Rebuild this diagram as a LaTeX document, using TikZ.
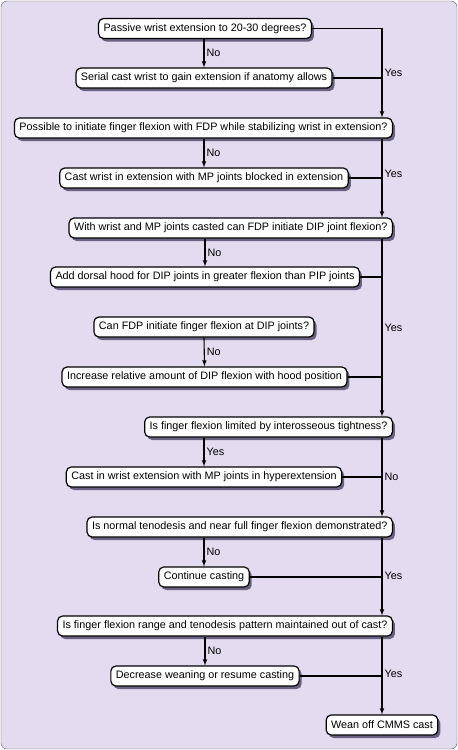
\documentclass[tikz,border=0pt]{standalone}
\usepackage{fontspec}
\setmainfont{Liberation Sans}
\usetikzlibrary{shadows}

\definecolor{lavender}{RGB}{227,220,240}
\definecolor{shadowgray}{RGB}{105,98,128}

\tikzset{
  flowbox/.style={draw, line width=1.2pt, fill=white, rounded corners=5pt,
    inner xsep=5pt, inner ysep=0pt, minimum height=20pt,
    font=\fontsize{10.8}{12}\selectfont,
    general shadow={fill=shadowgray, shadow xshift=2.5pt, shadow yshift=-3pt}},
  flowline/.style={line width=1.1pt},
  lbl/.style={font=\fontsize{10.8}{12}\selectfont, inner sep=2pt}
}

\begin{document}
\begin{tikzpicture}[>=latex, x=1pt, y=-1pt]

                % Background
                \draw [gray!70!black, fill=lavender, rounded corners=6pt] (1,1) rectangle (457,749);
                \useasboundingbox (0,0) rectangle (458,750);

                % Right hand line
                \coordinate (rx) at (382,0);

                % Boxes
                \node [flowbox] (q1) at (205,28.5) {Passive wrist extension to 20-30 degrees?};
                \node [flowbox] (a2) at (204,78) {Serial cast wrist to gain extension if anatomy allows};
                \node [flowbox, anchor=east] (q3) at (393,128) {Possible to initiate finger flexion with FDP while stabilizing wrist in extension?};
                \node [flowbox] (a4) at (204,178) {Cast wrist in extension with MP joints blocked in extension};
                \node [flowbox, anchor=east] (q5) at (393,228) {With wrist and MP joints casted can FDP initiate DIP joint flexion?};
                \node [flowbox] (a6) at (205,277) {Add dorsal hood for DIP joints in greater flexion than PIP joints};
                \node [flowbox] (q7) at (204,327) {Can FDP initiate finger flexion at DIP joints?};
                \node [flowbox] (a8) at (204.5,377) {Increase relative amount of DIP flexion with hood position};
                \node [flowbox, anchor=east] (q9) at (393,427) {Is finger flexion limited by interosseous tightness?};
                \node [flowbox] (a10) at (204,477) {Cast in wrist extension with MP joints in hyperextension};
                \node [flowbox, anchor=east] (q11) at (393,527) {Is normal tenodesis and near full finger flexion demonstrated?};
                \node [flowbox] (a12) at (204,577) {Continue casting};
                \node [flowbox, anchor=east] (q13) at (393,626) {Is finger flexion range and tenodesis pattern maintained out of cast?};
                \node [flowbox] (a14) at (205,676) {Decrease weaning or resume casting};
                \node [flowbox] (w15) at (382,725) {Wean off CMMS cast};

                % Left arrows
                \draw [flowline,->] (q1.south -| a2) -- (a2.north) node[lbl, midway, right] {No};
                \draw [flowline,->] (q3.south -| a4) -- (a4.north) node[lbl, midway, right] {No};
                \draw [flowline,->] (q5.south -| a6) -- (a6.north) node[lbl, midway, right] {No};
                \draw [flowline,->] (q7.south) -- (a8.north) node[lbl, midway, right] {No};
                \draw [flowline,->] (q9.south -| a10) -- (a10.north) node[lbl, midway, right] {Yes};
                \draw [flowline,->] (q11.south -| a12) -- (a12.north) node[lbl, midway, right] {No};
                \draw [flowline,->] (q13.south -| a14) -- (a14.north) node[lbl, midway, right] {No};

                % Right arrows
                \draw [flowline,->] (q1.east) -| (q3.north -| rx);
                \draw [flowline,->] (q3.south -| rx) -- (q5.north -| rx);
                \draw [flowline,->] (q5.south -| rx) -- (q9.north -| rx) node[lbl, pos=0.5, right] {Yes};
                \draw [flowline,->] (q9.south -| rx) -- (q11.north -| rx);
                \draw [flowline,->] (q11.south -| rx) -- (q13.north -| rx);
                \draw [flowline,->] (q13.south -| rx) -- (w15.north);

                % Join the action boxes to the right hand line
                \draw [flowline] (a2.east) -- (a2.east -| rx) node[lbl, right, yshift=5pt] {Yes};
                \draw [flowline] (a4.east) -- (a4.east -| rx) node[lbl, right, yshift=4pt] {Yes};
                \draw [flowline] (a6.east) -- (a6.east -| rx);
                \draw [flowline] (a8.east) -- (a8.east -| rx);
                \draw [flowline] (a10.east) -- (a10.east -| rx) node[lbl, right] {No};
                \draw [flowline] (a12.east) -- (a12.east -| rx) node[lbl, right, yshift=1pt] {Yes};
                \draw [flowline] (a14.east) -- (a14.east -| rx) node[lbl, right, yshift=2pt] {Yes};

\end{tikzpicture}
\end{document}
